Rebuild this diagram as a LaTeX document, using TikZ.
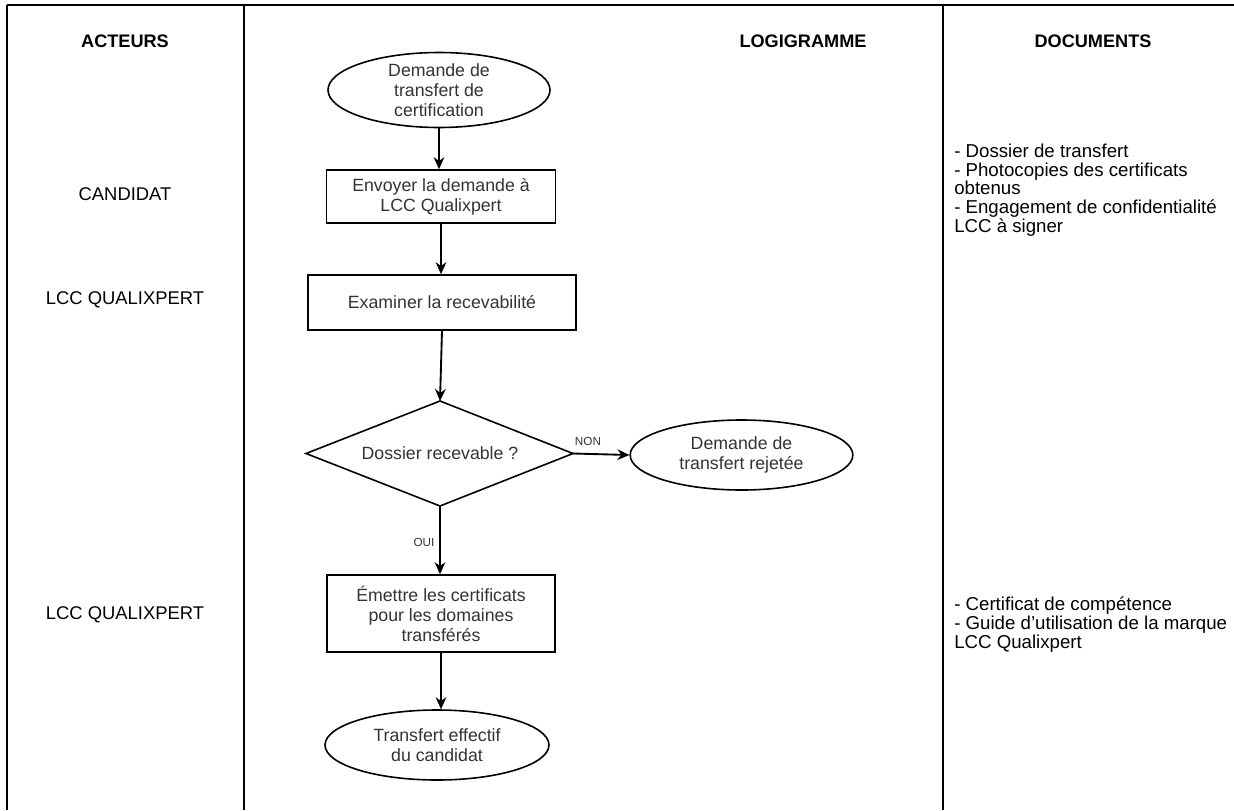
\documentclass[tikz,border=0pt]{standalone}
\usepackage{fontspec}
\setmainfont{Liberation Sans}
\usetikzlibrary{shapes.geometric,arrows.meta}
\definecolor{flowtext}{HTML}{333333}
\tikzset{
  frameline/.style={line width=0.9pt, black},
  flowline/.style={line width=1.4pt, black, -{Stealth[length=9pt,width=8pt]}},
  flowfont/.style={text=flowtext, font=\fontsize{13.3}{15}\selectfont, align=center, inner sep=0pt},
  shapeline/.style={draw, line width=1.2pt, flowfont},
  procbox/.style={shapeline, rectangle},
  termnode/.style={shapeline, ellipse},
  header/.style={font=\bfseries\fontsize{13.6}{15}\selectfont},
  actor/.style={font=\fontsize{13.8}{15}\selectfont},
  doclist/.style={font=\fontsize{14}{14}\selectfont, align=left, anchor=base west, inner sep=0pt},
  smalllabel/.style={font=\fontsize{8.8}{10}\selectfont, text=flowtext}
}
\begin{document}
\begin{tikzpicture}[x=0.75pt,y=-0.75pt]
\useasboundingbox (0,0) rectangle (1234,810);
% table frame
\coordinate (tl) at (7,5);
\coordinate (bl) at (7,810);
\coordinate (c1t) at (244,5);
\coordinate (c1b) at (244,810);
\coordinate (c2t) at (943,5);
\coordinate (c2b) at (943,810);
\coordinate (tr) at (1234,5);
\draw[frameline] (tl) -- (tr);
\draw[frameline] (tl) -- (bl);
\draw[frameline] (c1t) -- (c1b);
\draw[frameline] (c2t) -- (c2b);
% headers
\node[header] (hA) at (125,41) {ACTEURS};
\node[header] (hL) at (803,41) {LOGIGRAMME};
\node[header] (hD) at (1093,41) {DOCUMENTS};
% actors
\node[actor] (a1) at (125,194) {CANDIDAT};
\node[actor] (a2) at (125,300) {LCC QUALIXPERT};
\node[actor] (a3) at (125,615) {LCC QUALIXPERT};
% documents
\node[doclist] (d1) at (954,232) {- Dossier de transfert\\- Photocopies des certificats\\obtenus\\- Engagement de confidentialité\\LCC à signer};
\node[doclist] (d2) at (954,648) {- Certificat de compétence\\- Guide d’utilisation de la marque\\LCC Qualixpert};
% flowchart
\node[termnode, minimum width=166.5pt, minimum height=48pt] (e1) at (439,90) {Demande de\\transfert de\\certification};
\node[procbox, minimum width=171.75pt, minimum height=39.75pt] (b1) at (441,196.5) {Envoyer la demande à\\LCC Qualixpert};
\node[procbox, minimum width=201pt, minimum height=41.25pt] (b2) at (442,302.5) {Examiner la recevabilité};
\coordinate (dn) at (440,401);
\coordinate (de) at (573,453.5);
\coordinate (ds) at (440,506);
\coordinate (dw) at (306,453.5);
\draw[line width=1.2pt] (dn) -- (de) -- (ds) -- (dw) -- cycle;
\node[flowfont] (dtext) at (440,453.5) {Dossier recevable ?};
\node[termnode, minimum width=167pt, minimum height=52.5pt] (e2) at (741.5,455) {Demande de\\transfert rejetée};
\node[procbox, minimum width=171pt, minimum height=57.75pt] (b3) at (441,613.5) {Émettre les certificats\\pour les domaines\\transférés};
\node[termnode, minimum width=168pt, minimum height=52.5pt] (e3) at (437,745) {Transfert effectif\\du candidat};
% connectors
\draw[flowline] (e1.south) -- (e1.south |- b1.north);
\draw[flowline] (b1.south) -- (b1.south |- b2.north);
\draw[flowline] (b2.south) -- (dn);
\draw[flowline] (de) -- (e2.west);
\draw[flowline] (ds) -- (ds |- b3.north);
\draw[flowline] (b3.south) -- (b3.south |- e3.north);
\node[smalllabel] (lnon) at (588,441) {NON};
\node[smalllabel] (loui) at (424,542) {OUI};
\end{tikzpicture}
\end{document}
